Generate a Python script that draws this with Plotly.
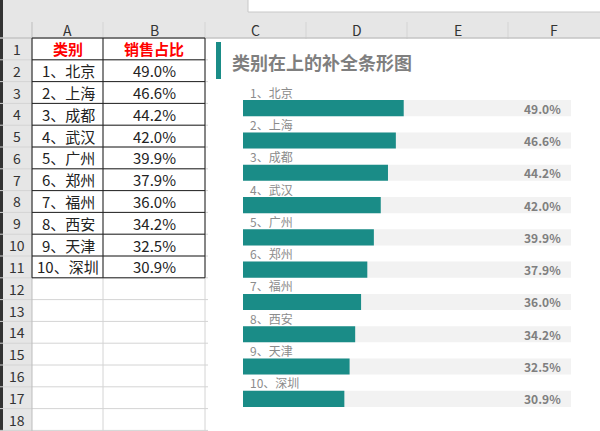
import plotly.graph_objects as go

categories = ["1、北京", "2、上海", "3、成都", "4、武汉", "5、广州", "6、郑州", "7、福州", "8、西安", "9、天津", "10、深圳"]
values = [0.490, 0.466, 0.442, 0.420, 0.399, 0.379, 0.360, 0.342, 0.325, 0.309]
full = [1.0] * len(values)
col_letters = ["A", "B", "C", "D", "E", "F"]
header = ["类别", "销售占比"]
title = "类别在上的补全条形图"

W, H = 600, 431
FONT = "Noto Sans CJK SC"
TEAL = "#1a8c87"
def px(x): return x / W
def py(y): return 1 - y / H

col_edges = [32, 103, 205, 306, 407, 508, 600]
ROW0, RH = 38, 21.8
def row_top(r): return ROW0 + (r - 1) * RH

shapes, ann = [], []
def rect(x0, y0, x1, y1, fill, line=None, lw=0):
    shapes.append(dict(type="rect", xref="paper", yref="paper", x0=px(x0), x1=px(x1), y0=py(y1), y1=py(y0),
                       fillcolor=fill, line=dict(color=line or fill, width=lw), layer="below"))
def line(x0, y0, x1, y1, color, w=1):
    shapes.append(dict(type="line", xref="paper", yref="paper", x0=px(x0), x1=px(x1), y0=py(y0), y1=py(y1),
                       line=dict(color=color, width=w), layer="below"))
def text(x, y, s, size=15, color="#222", bold=False, xanchor="center"):
    ann.append(dict(xref="paper", yref="paper", x=px(x), y=py(y), text=f"<b>{s}</b>" if bold else s,
                    showarrow=False, xanchor=xanchor, yanchor="middle", font=dict(family=FONT, size=size, color=color)))

rect(0, 0, 600, 431, "#ffffff")
rect(0, 0, 600, 38, "#e6e6e6")
rect(248, -2, 602, 12, "#ffffff", "#c8c8c8", 1)
rect(0, 38, 32, 431, "#e6e6e6")
rect(0, 0, 3, 431, "#333333")
for x in col_edges[1:-1]:
    line(x, 22, x, 431, "#d4d4d4")
for r in range(1, 20):
    line(0, row_top(r), 600, row_top(r), "#d4d4d4")
line(32, 22, 32, 431, "#bdbdbd")
line(0, 38, 600, 38, "#bdbdbd")
for i, c in enumerate(col_letters):
    text((col_edges[i] + col_edges[i + 1]) / 2, 30, c, size=14, color="#333")
for r in range(1, 19):
    text(17, row_top(r) + RH / 2, str(r), size=14, color="#333")
text(68, row_top(1) + RH / 2, header[0], color="#ff0000", bold=True)
text(154, row_top(1) + RH / 2, header[1], color="#ff0000", bold=True)
for i, (c, v) in enumerate(zip(categories, values)):
    yc = row_top(i + 2) + RH / 2
    text(68, yc, c)
    text(154, yc, f"{v*100:.1f}%")
for r in range(1, 13):
    line(32, row_top(r), 205, row_top(r), "#222")
for x in (32, 103, 205):
    line(x, row_top(1), x, row_top(12), "#222")
rect(208, 39, 601, 432, "#ffffff")
rect(216, 42, 221, 79, TEAL)
text(230, 62, title, size=18, color="#7f7f7f", bold=True, xanchor="left")

n = len(values)
ys = list(range(n))
fig = go.Figure()
fig.add_bar(y=ys, x=full, orientation="h", marker=dict(color="#f2f2f2", line=dict(width=0)), width=0.5, hoverinfo="skip")
fig.add_bar(y=ys, x=values, orientation="h", marker=dict(color=TEAL, line=dict(width=0)), width=0.5)
for i in ys:
    ann.append(dict(xref="x", yref="y", x=0, y=i, text=categories[i], showarrow=False, xanchor="left", yanchor="middle",
                    xshift=5, yshift=16, font=dict(family=FONT, size=12, color="#8c8c8c")))
    ann.append(dict(xref="x", yref="y", x=full[i], y=i, text=f"<b>{values[i]*100:.1f}%</b>", showarrow=False,
                    xanchor="right", yanchor="middle", xshift=-8, font=dict(family=FONT, size=12, color="#7f7f7f")))

fig.update_layout(
    width=W, height=H, margin=dict(l=0, r=0, t=0, b=0), showlegend=False, barmode="overlay",
    paper_bgcolor="#ffffff", plot_bgcolor="rgba(0,0,0,0)", shapes=shapes, annotations=ann,
    xaxis=dict(domain=[px(243), px(571)], range=[0, 1], visible=False, fixedrange=True),
    yaxis=dict(domain=[py(415), py(92)], range=[n - 0.5, -0.5], visible=False, fixedrange=True),
)
fig.write_html("out.html", config={"displayModeBar": False},
               post_script="document.body.style.margin='0';document.body.style.overflow='hidden';")
